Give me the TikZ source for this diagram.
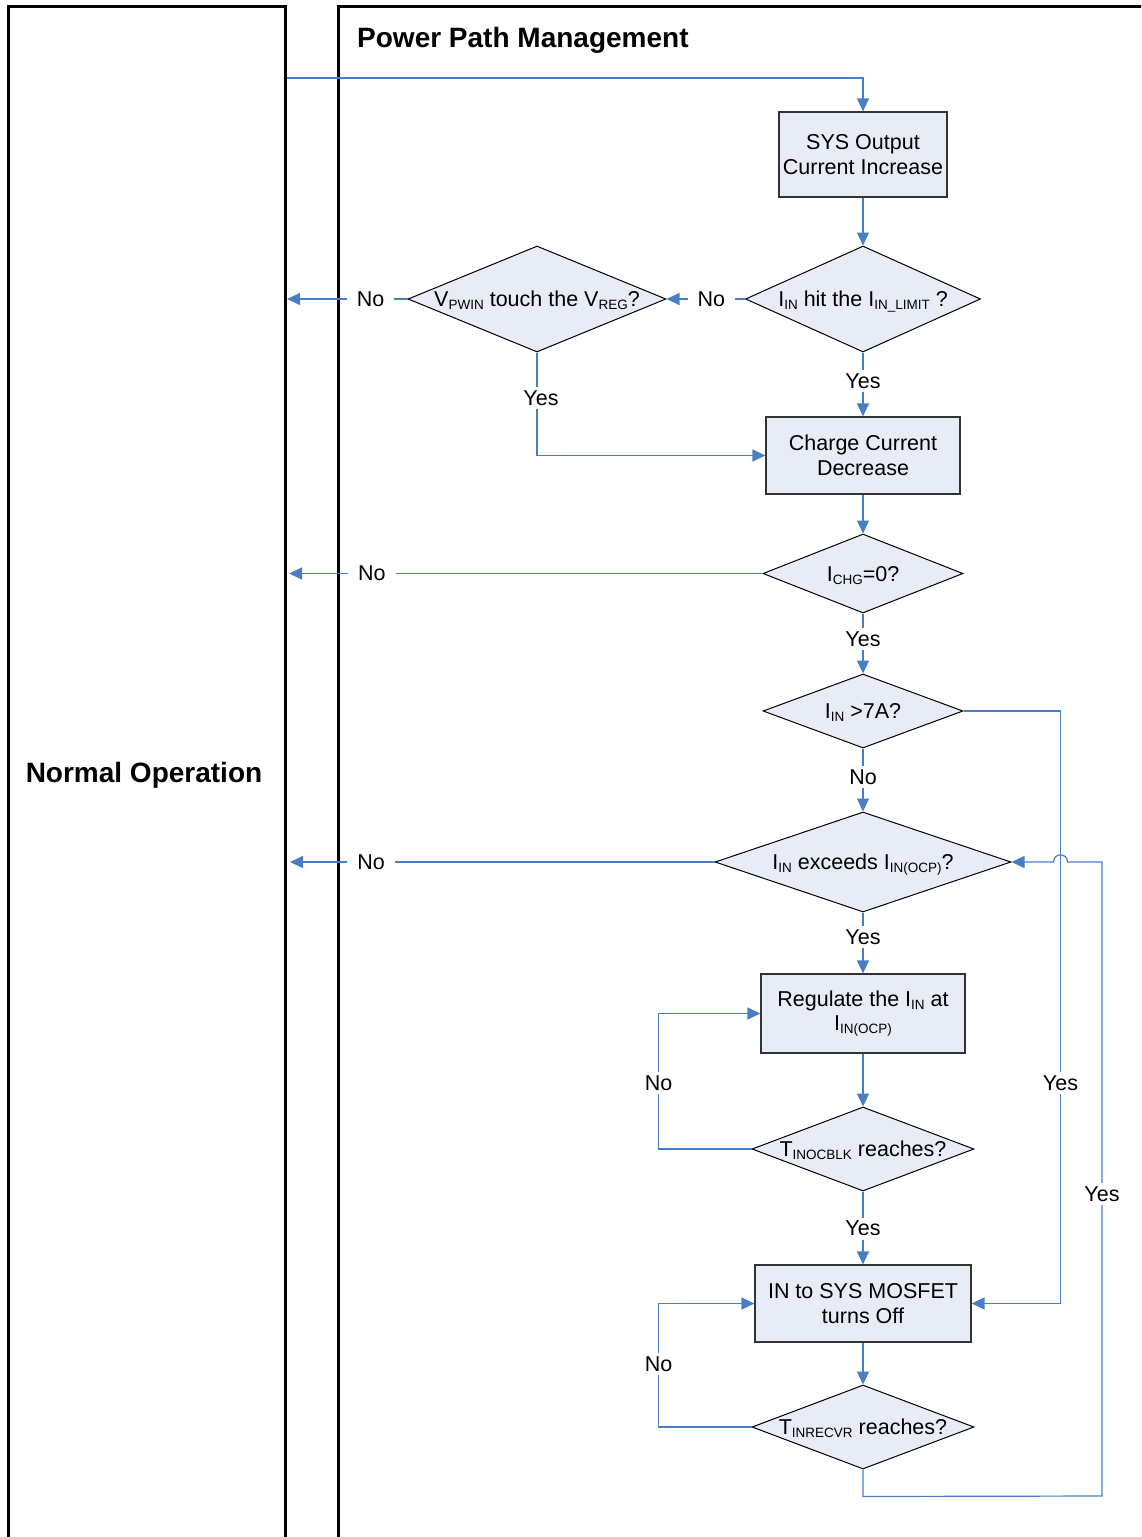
\documentclass[tikz,border=0pt]{standalone}
\usepackage{fontspec}
\setmainfont{Liberation Sans}
\usetikzlibrary{shapes.geometric,arrows.meta}
\definecolor{flowblue}{RGB}{74,126,196}
\definecolor{boxfill}{RGB}{231,236,247}
\newcommand\mysz{\fontsize{21.5}{24.5}\selectfont}
\newcommand\titlesz{\fontsize{28}{30}\selectfont}
\newcommand\sbs[1]{\raisebox{-0.14em}{\fontsize{13.5}{13.5}\selectfont #1}}
\newcommand\dtext[1]{\makebox[0pt]{\smash{\raisebox{-0.36em}{#1}}}}
\begin{document}
\begin{tikzpicture}[x=1pt,y=-1pt,
  frame/.style={draw=black, line width=3pt},
  box/.style={draw=black!80, line width=1.2pt, fill=boxfill, font=\mysz, align=center, inner sep=0pt},
  dia/.style={diamond, draw=black, line width=1pt, fill=boxfill, font=\mysz, inner sep=0pt},
  flow/.style={draw=flowblue, line width=1.2pt, -{Triangle[length=13pt,width=12pt]}},
  lbl/.style={fill=white, font=\mysz, inner xsep=10pt, inner ysep=3.5pt}]
\useasboundingbox (0,0) rectangle (1141,1537);
\clip (0,0) rectangle (1141,1537);

% frames
\draw[frame] (8,1560) -- (8,6) -- (285,6) -- (285,1560);
\draw[frame] (338,1560) -- (338,6) -- (1170,6);
\node[anchor=base west, font=\titlesz\bfseries, inner sep=0pt] (title) at (357,47) {Power Path Management};
\node[anchor=base, font=\titlesz\bfseries, inner sep=0pt] (normal) at (144,782) {Normal Operation};

% boxes
\node[box, minimum width=168, minimum height=85] (b1) at (863,154.5) {SYS Output\\Current Increase};
\node[box, minimum width=194, minimum height=77] (b2) at (863,455.5) {Charge Current\\Decrease};
\node[box, minimum width=204, minimum height=79] (b3) at (863,1013.5) {Regulate the I\sbs{IN} at\\I\sbs{IN(OCP)}};
\node[box, minimum width=216, minimum height=77] (b4) at (863,1303.5) {IN to SYS MOSFET\\turns Off};

% decisions
\node[dia, minimum width=235, minimum height=106] (d1) at (863,299) {\dtext{I\sbs{IN} hit the I\sbs{IN\_LIMIT} ?}};
\node[dia, minimum width=258, minimum height=106] (d2) at (537,299) {\dtext{V\sbs{PWIN} touch the V\sbs{REG}?}};
\node[dia, minimum width=200, minimum height=79] (d3) at (863,573.5) {\dtext{I\sbs{CHG}=0?}};
\node[dia, minimum width=200, minimum height=74] (d4) at (863,711) {\dtext{I\sbs{IN} >7A?}};
\node[dia, minimum width=296, minimum height=100] (d5) at (863,862) {\dtext{I\sbs{IN} exceeds I\sbs{IN(OCP)}?}};
\node[dia, minimum width=222, minimum height=84] (d6) at (863,1149) {\dtext{T\sbs{INOCBLK} reaches?}};
\node[dia, minimum width=222, minimum height=84] (d7) at (863,1427) {\dtext{T\sbs{INRECVR} reaches?}};

% free ends
\coordinate (src) at (286.5,78);
\coordinate (o1) at (287,299);
\coordinate (o2) at (289,573.5);
\coordinate (o3) at (290,862);
\coordinate (r1) at (1102,1496);
\coordinate (r2) at (1102,862);

% connectors
\draw[flow] (src) -| (b1.north);
\draw[flow] (b1.south) -- (d1.north);
\draw[flow] (d1.west) -- node[lbl, pos=0.43] {No} (d2.east);
\draw[flow] (d2.west) -- node[lbl, pos=0.306] {No} (o1);
\draw[flow] (d1.south) -- node[lbl, pos=0.446] {Yes} (b2.north);
\draw[flow] (d2.south) |- node[lbl, pos=0.223, xshift=4pt] {Yes} (b2.west);
\draw[flow] (b2.south) -- (d3.north);
\draw[flow] (d3.west) -- node[lbl, pos=0.825] {No} (o2);
\draw[flow] (d3.south) -- node[lbl, pos=0.426] {Yes} (d4.north);
\draw[flow] (d4.south) -- node[lbl, pos=0.45] {No} (d5.north);
\draw[flow] (d4.east) -- ++(97,0) |- node[lbl, pos=0.314] {Yes} (b4.east);
\draw[flow] (d5.west) -- node[lbl, pos=0.809] {No} (o3);
\draw[flow] (d5.south) -- node[lbl, pos=0.403] {Yes} (b3.north);
\draw[flow] (b3.south) -- (d6.north);
\draw[flow] (d6.west) -- ++(-93,0) |- node[lbl, pos=0.244] {No} (b3.west);
\draw[flow] (d6.south) -- node[lbl, pos=0.51] {Yes} (b4.north);
\draw[flow] (b4.south) -- (d7.north);
\draw[flow] (d7.west) -- ++(-93,0) |- node[lbl, pos=0.255] {No} (b4.west);
\draw[flow] (d7.south) -- ++(0,27) -- (r1) -- node[lbl, pos=0.476] {Yes} (r2) -- (1067.5,862)
  .. controls (1067.5,852.5) and (1053.5,852.5) .. (1053.5,862) -- (d5.east);
\end{tikzpicture}
\end{document}
